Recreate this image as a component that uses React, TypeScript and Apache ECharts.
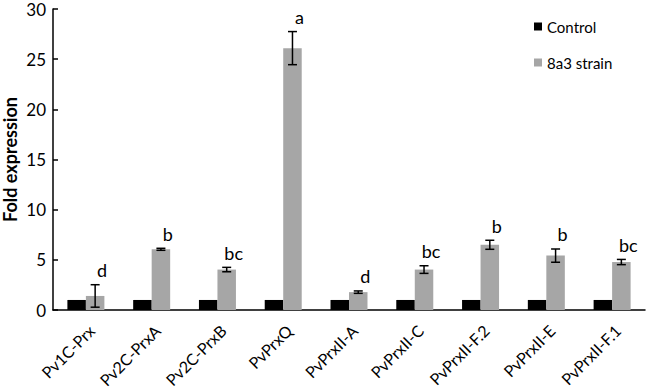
import React, { useEffect, useRef } from "react";
import * as echarts from "echarts";

const categories = [
  "Pv1C-Prx",
  "Pv2C-PrxA",
  "Pv2C-PrxB",
  "PvPrxQ",
  "PvPrxII-A",
  "PvPrxII-C",
  "PvPrxII-F.2",
  "PvPrxII-E",
  "PvPrxII-F.1",
];
const controlValues = [1, 1, 1, 1, 1, 1, 1, 1, 1];
const strainValues = [1.4, 6.05, 4.03, 26.1, 1.78, 4.03, 6.5, 5.42, 4.78];
const strainErrors = [1.12, 0.1, 0.22, 1.65, 0.12, 0.38, 0.45, 0.66, 0.26];
const letters = ["d", "b", "bc", "a", "d", "bc", "b", "b", "bc"];
const yTicks = { min: 0, max: 30, interval: 5 };

const FONT = "Lato, 'Open Sans', sans-serif";
const BAR_W = 18.5;

export default function App() {
  const ref = useRef<HTMLDivElement>(null);

  useEffect(() => {
    if (!ref.current) return;
    const chart = echarts.init(ref.current, undefined, { renderer: "svg" });
    const errData = strainValues.map((v, i) => [i, v, strainErrors[i]]);

    chart.setOption({
      animation: false,
      textStyle: { fontFamily: FONT },
      grid: {
        left: 53,
        right: 1,
        top: 9,
        bottom: 78,
        containLabel: false,
        outerBoundsMode: "none",
      },
      legend: {
        data: ["Control", "8a3 strain"],
        orient: "vertical",
        left: 529,
        top: 14,
        itemWidth: 8,
        itemHeight: 8,
        itemGap: 21,
        icon: "rect",
        textStyle: { fontSize: 15, color: "#000", fontFamily: FONT },
      },
      xAxis: {
        type: "category",
        data: categories,
        axisLine: { lineStyle: { color: "#000", width: 1.5 } },
        axisTick: { length: 5, lineStyle: { color: "#000", width: 1.5 } },
        axisLabel: {
          interval: 0,
          rotate: 45,
          fontSize: 16,
          color: "#000",
          margin: 12,
          verticalAlign: "top",
          fontFamily: FONT,
        },
      },
      yAxis: {
        type: "value",
        min: yTicks.min,
        max: yTicks.max,
        interval: yTicks.interval,
        name: "Fold expression",
        nameLocation: "middle",
        nameGap: 34,
        nameMoveOverlap: false,
        nameTextStyle: { fontSize: 18, fontWeight: "bold", color: "#000", fontFamily: FONT },
        axisLine: { show: true, lineStyle: { color: "#000", width: 1.5 } },
        axisTick: { show: true, inside: true, length: 5, lineStyle: { color: "#000", width: 1.5 } },
        axisLabel: { fontSize: 17, color: "#000", margin: 7, fontFamily: FONT },
        splitLine: { show: false },
      },
      series: [
        {
          name: "Control",
          type: "bar",
          data: controlValues,
          barWidth: BAR_W,
          barGap: "0%",
          itemStyle: { color: "#000000" },
        },
        {
          name: "8a3 strain",
          type: "bar",
          data: strainValues,
          barWidth: BAR_W,
          barGap: "0%",
          itemStyle: { color: "#a6a6a6" },
        },
        {
          name: "errors",
          type: "custom",
          data: errData,
          clip: false,
          z: 10,
          renderItem: (params: any, api: any) => {
            const i = api.value(0);
            const v = api.value(1);
            const e = api.value(2);
            const c = api.coord([i, v]);
            const t = api.coord([i, v + e]);
            const b = api.coord([i, v - e]);
            const x = c[0] + BAR_W / 2;
            const cap = 4.5;
            const ls = { stroke: "#000", lineWidth: 1.5 };
            return {
              type: "group",
              children: [
                { type: "line", shape: { x1: x, y1: t[1], x2: x, y2: b[1] }, style: ls },
                { type: "line", shape: { x1: x - cap, y1: t[1], x2: x + cap, y2: t[1] }, style: ls },
                { type: "line", shape: { x1: x - cap, y1: b[1], x2: x + cap, y2: b[1] }, style: ls },
                {
                  type: "text",
                  x: x + 7,
                  y: t[1] - 14.5,
                  style: {
                    text: letters[params.dataIndex],
                    fontSize: 18,
                    fontFamily: FONT,
                    fill: "#000",
                    align: "center",
                    verticalAlign: "middle",
                  },
                },
              ],
            };
          },
        },
      ],
    });
    return () => chart.dispose();
  }, []);

  return (
    <div
      ref={ref}
      style={{ position: "fixed", left: 0, top: 0, width: 646, height: 388, background: "#fff" }}
    />
  );
}
